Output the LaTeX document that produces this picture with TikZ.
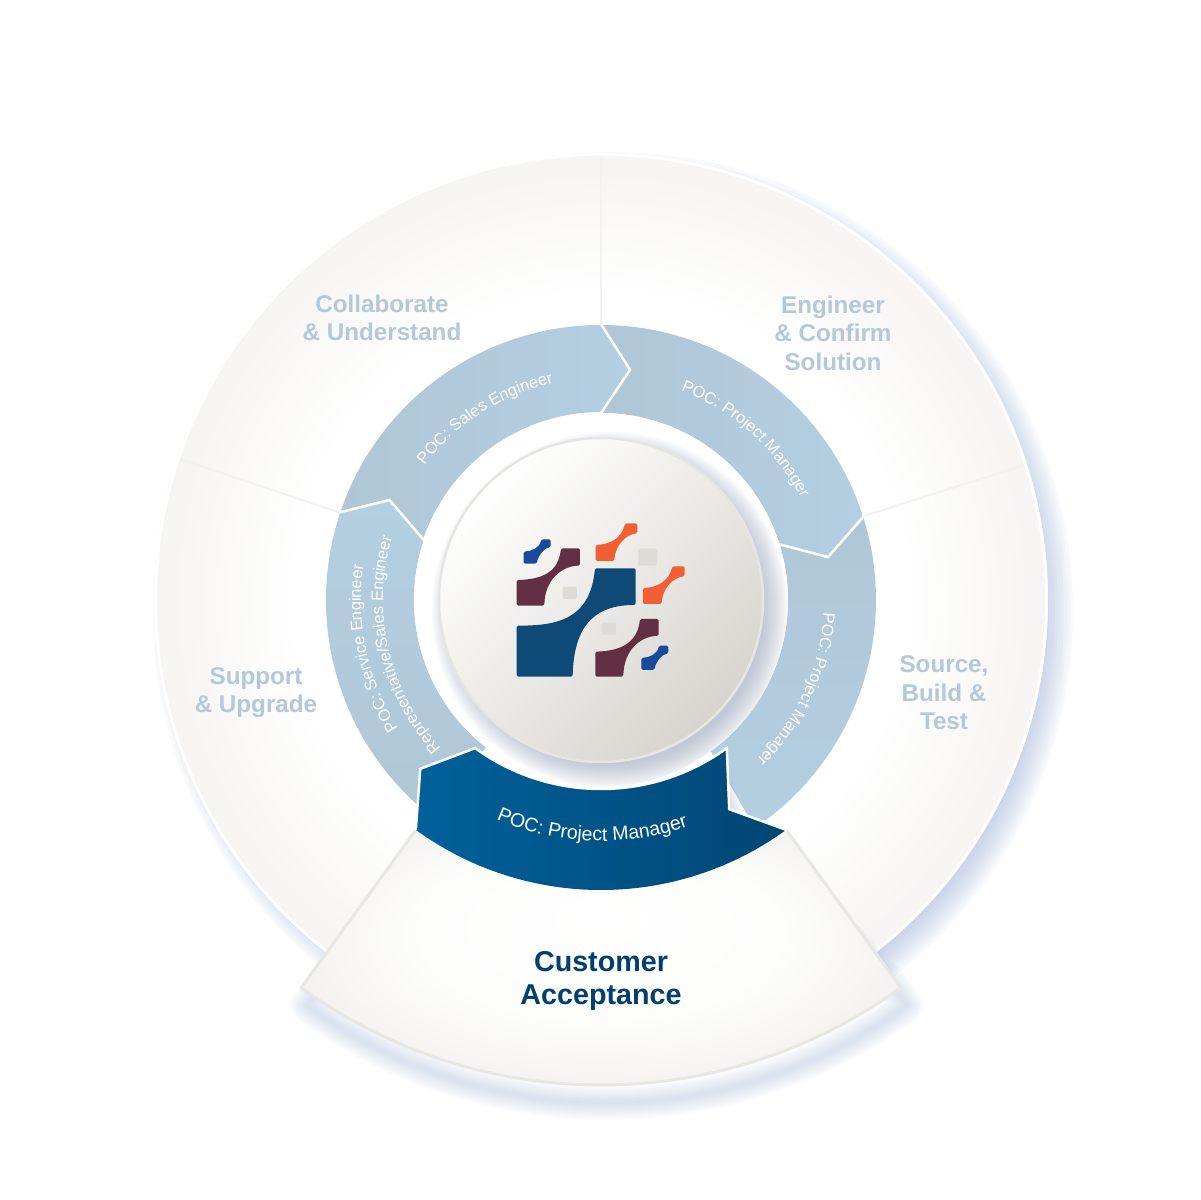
\documentclass[tikz,border=0pt]{standalone}
\usepackage{fontspec}
\setmainfont{Liberation Sans}
\usetikzlibrary{decorations.text}
\definecolor{lab}{HTML}{B3C9DA}
\definecolor{navytxt}{HTML}{003F6E}
\definecolor{ringa}{HTML}{B0C6D6}
\definecolor{ringb}{HTML}{B3CFE2}
\definecolor{rimg}{HTML}{F6F5F3}
\definecolor{divcol}{HTML}{F2F2F0}
\definecolor{wa}{HTML}{FDFDFC}
\definecolor{wb}{HTML}{F4F3F1}
\definecolor{wc}{HTML}{ECEBE8}
\definecolor{wd}{HTML}{E4E3DF}
\definecolor{wrim}{HTML}{E8E7E3}
\definecolor{shadowblue}{HTML}{A9BBDD}
\definecolor{ballshadow}{HTML}{A0A8C0}
\definecolor{ballend}{HTML}{D6D4CE}
\definecolor{ballrim}{HTML}{E6E5E1}
\definecolor{arrowa}{HTML}{00619B}
\definecolor{arrowb}{HTML}{004673}
\definecolor{notchshade}{HTML}{7F9BB3}
\definecolor{navy}{HTML}{0F4A77}
\definecolor{maroon}{HTML}{632F42}
\definecolor{orng}{HTML}{F15F32}
\definecolor{roy}{HTML}{1A489B}
\definecolor{chip}{HTML}{DCDBD5}
\pgfdeclareradialshading{discshade}{\pgfpointorigin}{color(0bp)=(white);color(17bp)=(white);color(24bp)=(rimg);color(25bp)=(rimg);color(50bp)=(rimg)}
\pgfdeclareradialshading{wedgeshade}{\pgfpoint{0bp}{10bp}}{color(0bp)=(white);color(15bp)=(wa);color(25bp)=(wb);color(31bp)=(wc);color(37bp)=(wd);color(50bp)=(wd)}
\tikzset{
  sectorlabel/.style={text=lab,font=\bfseries\fontsize{24.3}{28.5}\selectfont,align=center,inner sep=0pt},
  mainlabel/.style={text=navytxt,font=\bfseries\fontsize{28.8}{33}\selectfont,align=center,inner sep=0pt},
  notch/.style={draw=white,line width=2.5pt,line join=miter},
  divider/.style={draw=divcol,line width=2pt},
  curved/.style={decorate,decoration={text along path,text align=center,text={#1}}},
  chipbox/.style={fill=chip,rounded corners=1.5pt},
}
\newcommand{\lblfont}{\fontsize{16.5}{18}\selectfont\color{white}}
\begin{document}
\begin{tikzpicture}[x=1bp,y=1bp]
\useasboundingbox (-601,-600) rectangle (600,600);
\fill[white] (-601,-600) rectangle (600,600);

% disc shadow
\foreach \r in {433,436,439,442,445,448,451,454,457,460}
  \fill[shadowblue,opacity=.08] (12,-12) circle[radius=\r];
% disc
\path[shading=discshade] (0,0) circle[radius=447];
\draw[white,line width=3pt] (0,0) circle[radius=445.5];

% dividers
\coordinate (d1a) at (90:275);  \coordinate (d1b) at (90:444);
\coordinate (d2a) at (17.7:275);\coordinate (d2b) at (17.7:444);
\coordinate (d3a) at (161.5:275);\coordinate (d3b) at (161.5:444);
\draw[divider] (d1a) -- (d1b);
\draw[divider] (d2a) -- (d2b);
\draw[divider] (d3a) -- (d3b);

% ring key points
\coordinate (n1) at (82.8:232);
\coordinate (n2) at (10.7:231);
\coordinate (n3) at (154.7:234);

% ring segments
\path[left color=ringa,right color=ringb]
  (161.5:275) arc[start angle=161.5,end angle=90,radius=275] -- (n1) -- (90:188)
  arc[start angle=90,end angle=161.5,radius=188] -- (n3) -- cycle;
\path[left color=ringa,right color=ringb]
  (90:275) arc[start angle=90,end angle=17.7,radius=275] -- (n2) -- (17.5:187)
  arc[start angle=17.5,end angle=90,radius=187] -- (n1) -- cycle;
\path[top color=ringa,bottom color=ringb]
  (17.7:275) arc[start angle=17.7,end angle=-56,radius=275] -- (-54:187)
  arc[start angle=-54,end angle=17.5,radius=187] -- (n2) -- cycle;
\path[top color=ringb,bottom color=ringa]
  (161.5:275) arc[start angle=161.5,end angle=232,radius=275] -- (232:187)
  arc[start angle=232,end angle=161.5,radius=187] -- (n3) -- cycle;
\draw[notch] (90:276) -- (n1) -- (90:187);
\draw[notch] (17.7:276) -- (n2) -- (17.5:186);
\draw[notch] (161.5:276) -- (n3) -- (161.5:186);

% plate and ball
\fill[white] (0,0) circle[radius=187];
\begin{scope}
  \clip (0,0) circle[radius=187];
  \foreach \r in {154,156,158,160,162,164,166,168,170,172,174,176,178}
    \fill[ballshadow,opacity=.065] (9,-10) circle[radius=\r];
\end{scope}
\shade[top color=white,bottom color=ballend,shading angle=45] (0,0) circle[radius=163];
\draw[ballrim,line width=2.5pt] (0,0) circle[radius=162];

% logo
\begin{scope}[shift={(-101,100)},x=.3333bp,y=-.3333bp]
  \fill[navy,rounded corners=1.5pt] (50,377) .. controls (170,377) and (270,360) .. (285,205) -- (407,205) -- (407,315) .. controls (300,315) and (222,360) .. (218,530) -- (50,530) -- cycle;
  \fill[maroon,rounded corners=1.5pt] (50,240) .. controls (130,238) and (175,215) .. (183,145) -- (240,145) -- (240,197) .. controls (190,197) and (135,235) .. (133,317) -- (50,317) -- cycle;
  \fill[maroon,rounded corners=1.5pt] (286,455) .. controls (360,453) and (412,430) .. (420,357) -- (476,357) -- (476,407) .. controls (420,410) and (372,450) .. (370,530) -- (286,530) -- cycle;
  \fill[orng,rounded corners=1.5pt] (287,135) .. controls (330,133) and (365,115) .. (375,70) -- (412,70) -- (412,100) .. controls (380,103) and (345,135) .. (343,183) -- (287,183) -- cycle;
  \fill[orng,rounded corners=1.5pt] (429,264) .. controls (472,262) and (507,244) .. (517,199) -- (554,199) -- (554,229) .. controls (522,232) and (487,264) .. (485,312) -- (429,312) -- cycle;
  \fill[roy,rounded corners=1.5pt] (71,155) .. controls (95,153) and (118,145) .. (124,118) -- (152,118) -- (152,142) .. controls (135,143) and (115,165) .. (110,191) -- (71,191) -- cycle;
  \fill[roy,rounded corners=1.5pt] (424,474) .. controls (448,472) and (471,464) .. (477,437) -- (505,437) -- (505,461) .. controls (488,462) and (468,484) .. (463,510) -- (424,510) -- cycle;
  \fill[chipbox] (188,260) rectangle (231,297);
  \fill[chipbox] (415,145) rectangle (472,197);
  \fill[chipbox] (306,367) rectangle (348,404);
\end{scope}

% wedge and arrow geometry (arcs centred on W)
\begin{scope}[shift={(0,25)}]
  \coordinate (W) at (0,0);
  \coordinate (wl) at (-126:510);
  \coordinate (wr) at (-54:510);
  \coordinate (bl) at (-126:315);
  \coordinate (br) at (-54:315);
  \coordinate (tl) at (-126:214);
  \coordinate (tr) at (-54:214);
  \coordinate (tip) at (-133:265);
  \coordinate (nt) at (-61.3:267);
  \coordinate (ntop) at (-60:240);
\end{scope}

% shade beside the arrow's notch
\foreach \w in {4,8,12,16,20,24}
  \draw[notchshade,opacity=.06,line width=\w pt,line cap=round] (ntop) -- (nt);

% wedge shadow: the wider strokes start nearer the corners
\begin{scope}[shift={(6,7)}]
  \foreach \w/\r in {2/340,6/360,10/380,14/400,18/420,22/440,26/455,30/470,34/480}
    \draw[shadowblue,opacity=.05,line width=\w pt,line join=round,line cap=round]
      (-126:\r) -- (-126:510) arc[start angle=-126,end angle=-54,radius=510] -- (-54:\r);
\end{scope}
% wedge
\path[shading=wedgeshade] (bl) -- (wl) arc[start angle=-126,end angle=-54,radius=510] -- (br)
  arc[start angle=-54,end angle=-126,radius=315] -- cycle;
\draw[wrim,line width=3pt,line join=round] (bl) -- (wl) arc[start angle=-126,end angle=-54,radius=510] -- (br);

% blue arrow
\path[left color=arrowa,right color=arrowb]
  (bl) -- (tip) -- (tl) arc[start angle=-126,end angle=-54,radius=214] -- (nt) -- (br)
  arc[start angle=-54,end angle=-126,radius=315] -- cycle;
\draw[white,line width=2.5pt,line join=miter]
  (bl) -- (tip) -- (tl) arc[start angle=-126,end angle=-54,radius=214] -- (nt) -- (br);

% sector labels
\node[sectorlabel] (collab) at (-219,282) {Collaborate\\\& Understand};
\node[sectorlabel] (engin) at (232,267) {Engineer\\\& Confirm\\Solution};
\node[sectorlabel] (source) at (343,-93) {Source,\\Build \&\\Test};
\node[sectorlabel] (support) at (-345,-92.5) {Support\\\& Upgrade};
\node[mainlabel] (accept) at (0,-381) {Customer\\Acceptance};

% POC labels
\path[curved={|\lblfont|POC: Sales Engineer}] (175:222) arc[start angle=175,end angle=70,radius=222];
\path[curved={|\lblfont|POC: Project Manager}] (100:224) arc[start angle=100,end angle=-4,radius=224];
\path[curved={|\lblfont|POC: Project Manager}] (30:223) arc[start angle=30,end angle=-79,radius=223];
\path[curved={|\lblfont|POC: Service Engineer}] (245:240) arc[start angle=245,end angle=139,radius=240];
\path[curved={|\lblfont|Representative/Sales Engineer}] (250:218) arc[start angle=250,end angle=136,radius=218];
\begin{scope}[shift={(0,25)}]
  \path[curved={|\fontsize{19.6}{21}\selectfont\color{white}|POC: Project Manager}] (-150:266) arc[start angle=-150,end angle=-34,radius=266];
\end{scope}
\end{tikzpicture}
\end{document}
